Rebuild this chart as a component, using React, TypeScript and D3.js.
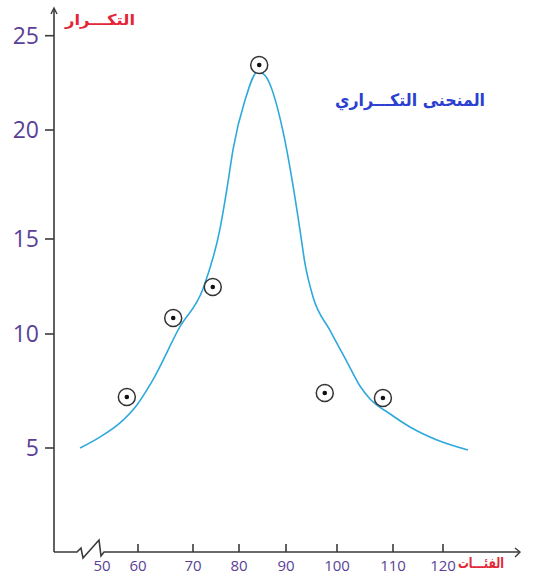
import * as d3 from 'd3';

const pointX = [56.9, 66.4, 74.3, 84.3, 97.6, 108.2];
const pointY = [7.24, 10.84, 12.47, 23.45, 7.41, 7.19];

// freehand frequency curve, traced
const curveX = [43.9, 49.4, 55, 59.7, 62.5, 67.6, 72.2, 75.9, 77.6, 78.7, 81.3, 84.0, 85.5, 89.4, 91.2, 92.75, 93.7, 95.3, 98.6, 101.8, 104.1, 105.9, 109.5, 113.4, 118.8, 125];
const curveY = [5.0, 5.48, 6.1, 6.89, 7.9, 10.37, 12.4, 15.5, 17.6, 19.1, 21.6, 23.1, 22.9, 19.9, 17.7, 15.4, 13.74, 11.95, 10.2, 8.77, 7.72, 7.15, 6.49, 5.92, 5.35, 4.91];

const xTicks = [50, 60, 70, 80, 90, 100, 110, 120];
const yTicks = [5, 10, 15, 20, 25];

const yTitle = 'التكـــرار';
const xTitle = 'الفئـــات';
const chartTitle = 'المنحنى التكـــراري';

const width = 536;
const height = 577;
const axisX = 54;
const axisY = 552;

const purple = '#5a3f98';
const red = '#e32636';
const blue = '#2b3fd0';
const lineBlue = '#2fa9dc';
const axisColor = '#3a3a3a';
const arabicFont = "'DejaVu Sans', sans-serif";
const numFont = "'Open Sans', 'Noto Sans', sans-serif";

// hand-drawn axis: tick spacing is not even, so use a piecewise scale
const x = d3.scaleLinear().domain(xTicks).range([102, 138, 193, 239, 286, 337, 393, 443]);
const y = d3.scaleLinear().domain(yTicks).range([448, 334, 239, 130, 35.7]);

export default function App() {
  const curveData = curveX.map((v, i) => [v, curveY[i]] as [number, number]);
  const line = d3
    .line<[number, number]>()
    .x((d) => x(d[0]))
    .y((d) => y(d[1]))
    .curve(d3.curveMonotoneX);

  const xAxisPath = `M${axisX},${axisY} H77 L81,548 L83,558 L99,540 L101,556 L104,${axisY} H519`;

  return (
    <div style={{ position: 'absolute', left: 0, top: 0 }}>
      <svg width={width} height={height} style={{ display: 'block', background: '#fff' }}>
        {/* axes */}
        <line x1={axisX} y1={9} x2={axisX} y2={axisY} stroke={axisColor} strokeWidth={1.6} />
        <path d={`M${axisX - 3},14 L${axisX},8 L${axisX + 3},14`} fill="none" stroke={axisColor} strokeWidth={1.4} />
        <path d={xAxisPath} fill="none" stroke={axisColor} strokeWidth={1.6} />
        <path d={`M515,${axisY - 4} L520,${axisY} L515,${axisY + 5}`} fill="none" stroke={axisColor} strokeWidth={1.4} />

        {/* y ticks */}
        {yTicks.map((t) => (
          <g key={t}>
            <line x1={axisX - 9} x2={axisX} y1={y(t)} y2={y(t)} stroke={axisColor} strokeWidth={1.6} />
            <text x={39} y={y(t)} dy="0.36em" textAnchor="end" fill={purple} fontSize={23} fontFamily={numFont}>
              {t}
            </text>
          </g>
        ))}

        {/* x ticks */}
        {xTicks.map((t) => (
          <g key={t}>
            {t > 50 && <line x1={x(t)} x2={x(t)} y1={axisY - 8} y2={axisY} stroke={axisColor} strokeWidth={1.6} />}
            <text x={x(t)} y={566} dy="0.35em" textAnchor="middle" fill={purple} fontSize={15} fontFamily={numFont}>
              {t}
            </text>
          </g>
        ))}

        {/* titles */}
        <text x={135} y={20} dy="0.35em" textAnchor="end" fill={red} fontSize={15} fontWeight="bold" fontFamily={arabicFont} textLength={70} lengthAdjust="spacingAndGlyphs">
          {yTitle}
        </text>
        <text x={504} y={563} dy="0.35em" textAnchor="end" fill={red} fontSize={14} fontWeight="bold" fontFamily={arabicFont} textLength={46} lengthAdjust="spacingAndGlyphs">
          {xTitle}
        </text>
        <text x={485} y={100} dy="0.35em" textAnchor="end" fill={blue} fontSize={17} fontWeight="bold" fontFamily={arabicFont} textLength={150} lengthAdjust="spacingAndGlyphs">
          {chartTitle}
        </text>

        {/* curve */}
        <path d={line(curveData) || ''} fill="none" stroke={lineBlue} strokeWidth={1.6} />

        {/* observed points */}
        {pointX.map((v, i) => (
          <g key={i} transform={`translate(${x(v)},${y(pointY[i])})`}>
            <circle r={8.5} fill="#fff" stroke="#333" strokeWidth={1.5} />
            <circle r={2.3} fill="#111" />
          </g>
        ))}
      </svg>
    </div>
  );
}
